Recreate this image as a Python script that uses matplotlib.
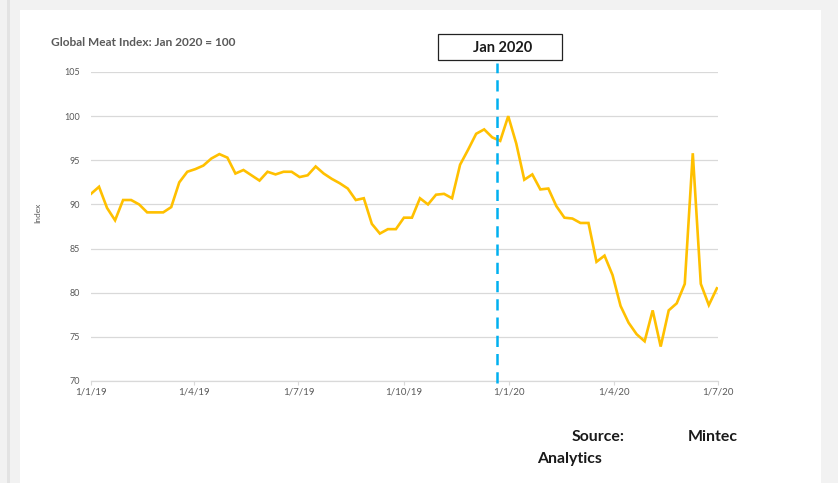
import pandas as pd
import matplotlib.pyplot as plt
import matplotlib.dates as mdates
from matplotlib.patches import Rectangle
from matplotlib.transforms import blended_transform_factory

# --- data (weekly) ---
START = "2019-01-01"
index_values = [
    91.2, 92.0, 89.6, 88.2, 90.5, 90.5, 90.0, 89.1, 89.1, 89.1,
    89.7, 92.5, 93.7, 94.0, 94.4, 95.2, 95.7, 95.3, 93.5, 93.9,
    93.3, 92.7, 93.7, 93.4, 93.7, 93.7, 93.1, 93.3, 94.3, 93.5,
    92.9, 92.4, 91.8, 90.5, 90.7, 87.8, 86.7, 87.2, 87.2, 88.5,
    88.5, 90.7, 90.0, 91.1, 91.2, 90.7, 94.5, 96.2, 98.0, 98.5,
    97.6, 97.2, 100.0, 96.9, 92.8, 93.4, 91.7, 91.8, 89.8, 88.5,
    88.4, 87.9, 87.9, 83.5, 84.2, 82.0, 78.5, 76.6, 75.3, 74.5,
    78.0, 73.9, 78.0, 78.8, 81.0, 95.8, 81.0, 78.6, 80.5,
]
dates = pd.date_range(START, periods=len(index_values), freq="7D")

tick_dates = pd.to_datetime(["2019-01-01", "2019-04-01", "2019-07-01", "2019-10-01",
                             "2020-01-01", "2020-04-01", "2020-07-01"])
tick_labels = ["1/1/19", "1/4/19", "1/7/19", "1/10/19", "1/1/20", "1/4/20", "1/7/20"]
y_ticks = [70, 75, 80, 85, 90, 95, 100, 105]
marker_date = pd.Timestamp("2019-12-21")   # Jan 2020 Markierung

GOLD = "#ffc000"
CYAN = "#00b0f0"
GREY_TXT = "#595959"
GRID = "#d9d9d9"
FONT = ["Lato", "DejaVu Sans"]

W, H = 838, 483
fig = plt.figure(figsize=(W / 100, H / 100), dpi=100)
fig.patch.set_facecolor("#f2f2f2")

# weisses Panel + dunkler Rand links
fig.add_artist(Rectangle((20 / W, 0), (821 - 20) / W, 1 - 10 / H,
                         transform=fig.transFigure, facecolor="white", edgecolor="none", zorder=0))
fig.add_artist(Rectangle((7 / W, 0), 3 / W, 1,
                         transform=fig.transFigure, facecolor="#e3e3e3", edgecolor="none", zorder=0))

ax = fig.add_axes([91 / W, 1 - 381 / H, (718 - 91) / W, (381 - 72) / H])
ax.set_facecolor("none")

ax.plot(dates, index_values, color=GOLD, linewidth=1.9, zorder=3, solid_joinstyle="miter")

ax.set_ylim(70, 105)
ax.set_xlim(pd.Timestamp("2019-01-01"), pd.Timestamp("2020-07-01"))
ax.set_yticks(y_ticks)
ax.set_yticklabels([str(v) for v in y_ticks], fontsize=6.5, color=GREY_TXT, family=FONT)
ax.set_xticks(tick_dates)
ax.set_xticklabels(tick_labels, fontsize=7, color=GREY_TXT, family=FONT)
ax.tick_params(axis="y", length=0, pad=8)
ax.tick_params(axis="x", length=3, color=GRID, pad=2)
ax.grid(axis="y", color=GRID, linewidth=0.9)
ax.set_axisbelow(True)
for side in ["top", "right", "left"]:
    ax.spines[side].set_visible(False)
ax.spines["bottom"].set_color(GRID)
ax.spines["bottom"].set_linewidth(0.9)

ax.set_ylabel("Index", fontsize=6, color=GREY_TXT, family=FONT)
ax.yaxis.set_label_coords(-(91 - 41) / (718 - 91), (381 - 213) / (381 - 72))

# gestrichelte Linie bei Jan 2020
trans = blended_transform_factory(ax.transData, ax.transAxes)
ax.plot([marker_date, marker_date], [-0.006, 1.03], transform=trans, color=CYAN,
        linewidth=1.8, linestyle=(0, (4.5, 2.8)), clip_on=False, zorder=4)

# Box "Jan 2020"
fig.text(503 / W, 1 - 48 / H, "Jan 2020", ha="center", va="center", fontsize=10.5,
         fontweight="bold", color="#1a1a1a", family=FONT)
fig.add_artist(Rectangle((438 / W, 1 - 60 / H), (562 - 438) / W, (60 - 34) / H,
                         transform=fig.transFigure, facecolor="none", edgecolor="#222222",
                         linewidth=0.9, zorder=5))

fig.text(51 / W, 1 - 42 / H, "Global Meat Index: Jan 2020 = 100", ha="left", va="center",
         fontsize=8.6, fontweight="bold", color=GREY_TXT, family=FONT)

# Quelle (Blocksatz wie im Original)
src_kw = dict(fontsize=11.4, fontweight="bold", color="#1a1a1a", family=FONT, va="center")
fig.text(572 / W, 1 - 437 / H, "Source:", ha="left", **src_kw)
fig.text(738 / W, 1 - 437 / H, "Mintec", ha="right", **src_kw)
fig.text(537 / W, 1 - 459 / H, "Analytics", ha="left", **src_kw)

fig.savefig("out.png", dpi=100, facecolor=fig.get_facecolor())
